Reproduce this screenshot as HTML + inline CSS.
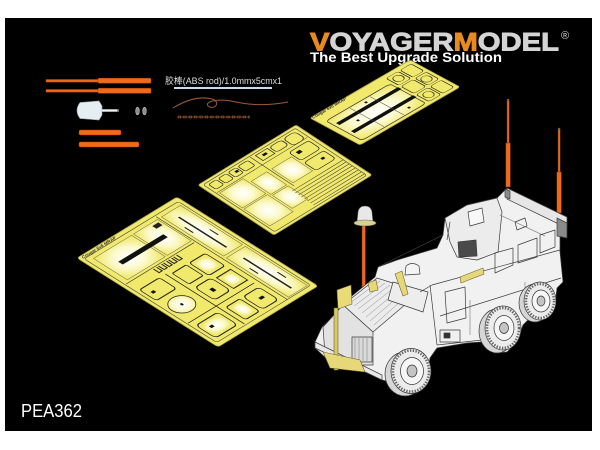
<!DOCTYPE html>
<html><head><meta charset="utf-8">
<style>html,body{margin:0;padding:0;background:#fff;width:600px;height:450px;overflow:hidden}svg{display:block}</style>
</head>
<body>
<svg width="600" height="450" viewBox="0 0 600 450" xmlns="http://www.w3.org/2000/svg">
<defs>
<radialGradient id="br" cx="50%" cy="50%" r="65%">
<stop offset="0" stop-color="#ffffff"/><stop offset="0.5" stop-color="#fcfad0"/><stop offset="1" stop-color="#f0e86c"/>
</radialGradient>
</defs>
<rect x="0" y="0" width="600" height="450" fill="#fff"/>
<rect x="5" y="18" width="587" height="413" fill="#000"/>

<!-- Logo -->
<text x="310" y="50.7" font-family="Liberation Sans, sans-serif" font-weight="bold" font-size="25" textLength="249" lengthAdjust="spacingAndGlyphs" stroke-width="0.9"><tspan fill="#e88a1f" stroke="#e88a1f">V</tspan><tspan fill="#d4d4d4" stroke="#d4d4d4">OYAGER</tspan><tspan fill="#e88a1f" stroke="#e88a1f">M</tspan><tspan fill="#d4d4d4" stroke="#d4d4d4">ODEL</tspan></text>
<text x="561" y="39" font-family="Liberation Sans, sans-serif" font-size="11" fill="#d6d6d6">®</text>
<text x="310" y="62" font-family="Liberation Sans, sans-serif" font-weight="bold" font-size="14" fill="#fff" textLength="192" lengthAdjust="spacingAndGlyphs">The Best Upgrade Solution</text>

<!-- rods -->
<g fill="#f06a18" stroke="#a8440c" stroke-width="0.5">
<rect x="46" y="79.5" width="53" height="2.6"/>
<rect x="98" y="78.2" width="53" height="5" rx="1"/>
<rect x="46" y="89.5" width="53" height="2.6"/>
<rect x="98" y="88.3" width="53" height="5" rx="1"/>
<rect x="79" y="130" width="42" height="5" rx="1.5"/>
<rect x="79" y="142" width="60" height="5" rx="1.5"/>
</g>
<path d="M80,102.5 L99,101 L102,106 L102,115 L99,120 L80,118.5 Q74,110.5 80,102.5 Z" fill="#e4eef3" stroke="#8fa4b0" stroke-width="0.6"/>
<rect x="102" y="109.3" width="16" height="2.4" fill="#eef3f6"/>
<rect x="117" y="109.3" width="2" height="2.4" fill="#888"/>
<ellipse cx="137.5" cy="111" rx="1.8" ry="3.8" fill="#8a8a8a" stroke="#cfcfcf" stroke-width="0.6"/>
<ellipse cx="144.5" cy="111" rx="1.8" ry="3.8" fill="#8a8a8a" stroke="#cfcfcf" stroke-width="0.6"/>

<text x="165" y="84" font-family="Liberation Sans, 'Noto Sans CJK SC', sans-serif" font-size="9" fill="#dcdcdc" textLength="117" lengthAdjust="spacingAndGlyphs">胶棒(ABS rod)/1.0mmx5cmx1</text>
<rect x="174" y="87" width="98" height="2" fill="#c9d9ee"/>
<path d="M173,108 C186,100 200,96 212,99 C222,102 214,111 208,106 C204,101 220,98 236,102 C254,106 272,105 288,102" fill="none" stroke="#9b5a38" stroke-width="1"/>
<line x1="177" y1="117" x2="250" y2="117" stroke="#9b5a38" stroke-width="0.8"/>
<line x1="178" y1="117" x2="250" y2="117" stroke="#9b5a38" stroke-width="2.4" stroke-dasharray="3,2.4" fill="none"/>
<line x1="178" y1="117" x2="250" y2="117" stroke="#000" stroke-width="0.9" stroke-dasharray="1.6,3.8" stroke-dashoffset="-0.7"/>

<!-- BIG FRET -->
<g transform="matrix(1.00,-0.61,1.41,0.89,77,258)">
<rect x="0" y="0" width="100" height="100" rx="2" fill="#f1e96c" stroke="#a9a04c" stroke-width="0.8" vector-effect="non-scaling-stroke"/>
<rect x="3" y="3" width="94" height="94" rx="2" fill="none" stroke="#444" stroke-width="0.6" vector-effect="non-scaling-stroke"/>
<rect x="8" y="6" width="38" height="24" fill="url(#br)" stroke="#555" stroke-width="0.5" vector-effect="non-scaling-stroke"/>
<rect x="48" y="6" width="24" height="24" fill="url(#br)" stroke="#555" stroke-width="0.5" vector-effect="non-scaling-stroke"/>
<rect x="18" y="16.5" width="45" height="3.2" fill="#111"/>
<rect x="64" y="8" width="6" height="3" fill="#222"/>
<rect x="76" y="6" width="19" height="44" fill="url(#br)" stroke="#555" stroke-width="0.5" vector-effect="non-scaling-stroke"/>
<rect x="76" y="52" width="19" height="44" fill="url(#br)" stroke="#555" stroke-width="0.5" vector-effect="non-scaling-stroke"/>
<g fill="#222">
<rect x="84" y="12" width="1.4" height="34"/><rect x="84" y="58" width="1.4" height="34"/>
<rect x="79" y="20" width="1" height="6"/><rect x="90" y="30" width="1" height="6"/>
<rect x="79" y="66" width="1" height="6"/><rect x="90" y="78" width="1" height="6"/>
</g>
<line x1="73.5" y1="4" x2="73.5" y2="97" stroke="#333" stroke-width="0.6" vector-effect="non-scaling-stroke"/>
<line x1="4" y1="32" x2="72" y2="32" stroke="#333" stroke-width="0.6" vector-effect="non-scaling-stroke"/>
<path d="M30,33 v4 h3 v-4 M35,33 v4 h3 v-4 M40,33 v4 h3 v-4 M45,33 v4 h3 v-4 M50,33 v4 h3 v-4" fill="none" stroke="#222" stroke-width="1" vector-effect="non-scaling-stroke"/>
<ellipse cx="16" cy="63" rx="10" ry="7" fill="url(#br)" stroke="#222" stroke-width="0.8" vector-effect="non-scaling-stroke"/>
<circle cx="16" cy="63" r="1" fill="#111"/>
<line x1="4" y1="76" x2="70" y2="76" stroke="#222" stroke-width="0.8" vector-effect="non-scaling-stroke"/>
<line x1="32" y1="40" x2="32" y2="96" stroke="#222" stroke-width="0.8" vector-effect="non-scaling-stroke"/>
<g fill="none" stroke="#222" stroke-width="0.7" vector-effect="non-scaling-stroke">
<rect x="36" y="42" width="14" height="12" rx="1"/>
<rect x="53" y="42" width="16" height="14" rx="2"/>
<rect x="36" y="58" width="16" height="14" rx="3"/>
<rect x="55" y="60" width="14" height="12"/>
<rect x="6" y="80" width="22" height="14" rx="3"/>
<rect x="36" y="80" width="14" height="14" rx="2"/>
<rect x="53" y="80" width="16" height="14" rx="3"/>
<rect x="6" y="40" width="20" height="12" rx="2"/>
</g>
<g fill="url(#br)">
<rect x="38" y="82" width="10" height="10"/>
<rect x="55" y="44" width="12" height="10"/>
<rect x="57" y="62" width="10" height="8"/>
<rect x="8" y="82" width="18" height="10"/>
</g>
<g fill="#111"><rect x="42" y="64" width="3" height="3"/><rect x="12" y="85" width="3" height="2"/><rect x="60" y="86" width="4" height="2"/><rect x="10" y="45" width="3" height="2"/></g>
</g>
<text transform="translate(83,259) rotate(-31.4)" font-family="Liberation Sans, sans-serif" font-size="4.5" font-weight="bold" fill="#333">Cougar 6x6 MRAP</text>

<!-- MIDDLE FRET -->
<g transform="matrix(0.98,-0.60,0.76,0.50,198,185)">
<rect x="0" y="0" width="100" height="100" rx="2" fill="#f1e96c" stroke="#a9a04c" stroke-width="0.8" vector-effect="non-scaling-stroke"/>
<rect x="3" y="3" width="94" height="94" rx="2" fill="none" stroke="#444" stroke-width="0.6" vector-effect="non-scaling-stroke"/>
<rect x="5" y="22" width="24" height="30" fill="url(#br)" stroke="#555" stroke-width="0.5" vector-effect="non-scaling-stroke"/>
<rect x="5" y="54" width="24" height="34" fill="url(#br)" stroke="#555" stroke-width="0.5" vector-effect="non-scaling-stroke"/>
<rect x="31" y="30" width="16" height="26" fill="url(#br)" stroke="#555" stroke-width="0.5" vector-effect="non-scaling-stroke"/>
<rect x="31" y="58" width="16" height="26" fill="url(#br)" stroke="#555" stroke-width="0.5" vector-effect="non-scaling-stroke"/>
<rect x="52" y="30" width="20" height="28" fill="url(#br)" stroke="#555" stroke-width="0.5" vector-effect="non-scaling-stroke"/>
<g stroke="#333" stroke-width="0.6" vector-effect="non-scaling-stroke">
<line x1="45" y1="66" x2="97" y2="66"/><line x1="45" y1="70" x2="97" y2="70"/><line x1="45" y1="74" x2="97" y2="74"/>
<line x1="45" y1="78" x2="97" y2="78"/><line x1="45" y1="82" x2="97" y2="82"/><line x1="45" y1="86" x2="97" y2="86"/>
<line x1="45" y1="90" x2="97" y2="90"/><line x1="45" y1="94" x2="97" y2="94"/>
<line x1="4" y1="20" x2="96" y2="20"/><line x1="50" y1="4" x2="50" y2="62"/>
</g>
<g fill="none" stroke="#222" stroke-width="0.7" vector-effect="non-scaling-stroke">
<rect x="6" y="6" width="8" height="10" rx="2"/><rect x="16" y="6" width="8" height="10" rx="2"/>
<rect x="26" y="6" width="8" height="10" rx="2"/><rect x="36" y="6" width="10" height="10" rx="2"/>
<rect x="54" y="6" width="12" height="10"/><rect x="68" y="6" width="12" height="10" rx="3"/>
<rect x="82" y="6" width="12" height="14" rx="4"/><rect x="74" y="24" width="20" height="16" rx="3"/>
<rect x="74" y="44" width="20" height="16" rx="3"/>
</g>
<g fill="#111"><rect x="78" y="28" width="4" height="4"/><rect x="58" y="9" width="4" height="3"/><rect x="30" y="9" width="3" height="3"/><rect x="86" y="50" width="3" height="3"/></g>
</g>

<!-- SMALL FRET -->
<g transform="matrix(1.00,-0.58,0.50,0.27,310,118)">
<rect x="0" y="0" width="100" height="100" rx="3" fill="#f1e96c" stroke="#a9a04c" stroke-width="0.8" vector-effect="non-scaling-stroke"/>
<rect x="5" y="22" width="64" height="72" rx="4" fill="url(#br)" stroke="#333" stroke-width="0.7" vector-effect="non-scaling-stroke"/>
<rect x="8" y="36" width="62" height="7" fill="#111"/>
<rect x="8" y="66" width="62" height="7" fill="#111"/>
<g stroke="#444" stroke-width="0.5" vector-effect="non-scaling-stroke"><line x1="28" y1="24" x2="28" y2="92"/><line x1="48" y1="24" x2="48" y2="92"/></g>
<g fill="none" stroke="#222" stroke-width="0.7" vector-effect="non-scaling-stroke">
<rect x="72" y="8" width="12" height="26" rx="3"/><rect x="86" y="8" width="11" height="26" rx="3"/>
<rect x="72" y="38" width="12" height="26" rx="3"/><rect x="86" y="38" width="11" height="26" rx="3"/>
<rect x="72" y="68" width="12" height="26" rx="3"/><rect x="86" y="68" width="11" height="26" rx="3"/>
<ellipse cx="78" cy="21" rx="4" ry="8"/><ellipse cx="91" cy="51" rx="4" ry="8"/><ellipse cx="78" cy="81" rx="4" ry="8"/>
</g>
<g fill="#111"><rect x="20" y="52" width="2" height="4"/><rect x="40" y="28" width="2" height="4"/><rect x="56" y="82" width="2" height="4"/></g>
</g>
<text transform="translate(313,119) rotate(-30)" font-family="Liberation Sans, sans-serif" font-size="4.5" font-weight="bold" fill="#333">Cougar 6x6 MRAP</text>

<!-- antennas -->
<g stroke="#6a300c" stroke-width="0.5">
<rect x="507" y="100" width="2.2" height="44" fill="#ee6a1a"/>
<rect x="505.8" y="143" width="4.6" height="44" fill="#ee6a1a"/>
<rect x="558" y="129" width="2.2" height="44" fill="#ee6a1a"/>
<rect x="556.8" y="172" width="4.6" height="41" fill="#ee6a1a"/>
</g>
<circle cx="508" cy="100" r="1.2" fill="#666"/>
<circle cx="559" cy="129" r="1.2" fill="#666"/>

<!-- lamp pole -->
<rect x="362" y="224" width="3.4" height="76" fill="#ee6a1a" stroke="#6a300c" stroke-width="0.5"/>
<path d="M357,222 L358,212 Q359,206 365,206 Q371,206 372,212 L373,222 Z" fill="#e8e8e8" stroke="#555" stroke-width="0.6"/>
<ellipse cx="365" cy="223" rx="11" ry="3" fill="#d9d28e" stroke="#666" stroke-width="0.6"/>

<!-- VEHICLE -->
<g stroke="#3a3a3a" stroke-width="0.7" stroke-linejoin="round">
<polygon fill="#f1f1f1" points="315,342 322,327 332,318 343,305 353,295 375,277 378,267 397,260 437,248 443,235 445,218 467,205 497,198 507,188 567,217 567,228 560,230 560,252 563,282 557,288 555,305 543,317 530,318 523,325 517,342 507,352 497,353 487,348 482,342 467,343 437,348 430,358 425,385 417,393 403,393 393,385 390,382 382,380 370,373 350,365 330,362 315,348"/>
<!-- roof rail -->
<polygon fill="#e6e6e6" points="507,188 567,217 567,228 507,199"/>
<polygon fill="#8a8a8a" points="557,218 567,223 567,238 557,236"/>
<polygon fill="#8a8a8a" points="505,189 510,191 510,199 505,197"/>
<!-- turret -->
<polygon fill="#ececec" points="445,218 467,205 497,198 502,212 498,252 477,260 457,257 450,242"/>
<polygon fill="#4a4a4a" points="458,242 476,240 477,256 459,257"/>
<polygon fill="#f8f8f8" points="468,212 482,208 484,222 470,226"/>
<line x1="447" y1="240" x2="450" y2="222" fill="none"/>
<line x1="500" y1="215" x2="545" y2="236" fill="none" stroke="#888"/>
<polygon fill="none" points="515,222 525,218 527,226 517,230"/>
<!-- roof light -->
<path d="M405,275 L406,266 Q412,261 419,266 L420,274 Z" fill="#f4f4f4"/>
<!-- hood -->
<polygon fill="#ebebeb" points="343,305 377,278 420,292 373,332"/>
<g stroke="#8a8a8a" stroke-width="0.5">
<line x1="350" y1="303" x2="380" y2="281"/><line x1="354" y1="306" x2="385" y2="283"/>
<line x1="358" y1="309" x2="390" y2="285"/><line x1="362" y1="313" x2="395" y2="287"/>
<line x1="366" y1="317" x2="400" y2="289"/><line x1="370" y1="321" x2="405" y2="291"/>
<line x1="374" y1="325" x2="410" y2="293"/>
</g>
<!-- front face -->
<polygon fill="#e2e2e2" points="323,327 343,305 373,332 373,365 350,365 325,355"/>
<rect x="352" y="337" width="20" height="25" fill="#dadada"/>
<g stroke="#777" stroke-width="0.5"><line x1="355" y1="338" x2="355" y2="361"/><line x1="359" y1="338" x2="359" y2="361"/><line x1="363" y1="338" x2="363" y2="361"/><line x1="367" y1="338" x2="367" y2="361"/></g>
<!-- windshield / cab -->
<polygon fill="#ededed" points="393,282 428,292 423,312 388,300"/>
<line x1="378" y1="267" x2="443" y2="235"/>
<line x1="420" y1="292" x2="432" y2="285"/>
<!-- hull side -->
<line x1="432" y1="285" x2="560" y2="250"/>
<line x1="440" y1="316" x2="561" y2="278"/>
<line x1="430" y1="285" x2="437" y2="345"/>
<line x1="437" y1="345" x2="482" y2="340"/>
<polygon fill="none" points="495,253 513,248 513,265 495,273"/>
<polygon fill="none" points="518,245 537,238 537,257 518,263"/>
<polygon fill="none" points="540,235 555,230 555,247 540,253"/>
<polygon fill="none" points="445,292 465,287 466,318 447,323"/>
<line x1="470" y1="300" x2="470" y2="335" stroke="#888"/>
<line x1="525" y1="282" x2="525" y2="310" stroke="#888"/>
<rect x="440" y="330" width="20" height="12" fill="#f0f0f0"/>
<rect x="444" y="333" width="6" height="5" fill="#333"/>
<!-- bumper -->
<polygon fill="#e8e8e8" points="315,342 382,375 382,380 315,348"/>
</g>
<!-- yellow bits -->
<g stroke="#6d6430" stroke-width="0.6">
<polygon fill="#e9dc78" points="337,290 351,285 352,304 338,309"/>
<rect x="334" y="308" width="4" height="62" fill="#d8c860"/>
<polygon fill="#e6d878" points="323,352 360,360 365,372 330,368"/>
<polygon fill="#e6d878" points="460,277 483,268 484,274 461,283"/>
<polygon fill="#e6d878" points="395,274 402,271 408,294 403,296"/>
<polygon fill="#e6d878" points="368,283 376,280 378,290 370,292"/>
</g>
<!-- wheels -->
<g stroke="#333" stroke-width="0.7">
<ellipse cx="535" cy="303" rx="16" ry="19" fill="#d6d6d6"/>
<ellipse cx="540" cy="301" rx="16" ry="19" fill="#ececec"/>
<ellipse cx="540" cy="301" rx="14" ry="17" fill="none" stroke="#666" stroke-width="2.5" stroke-dasharray="1.4,1.4"/>
<ellipse cx="541" cy="301" rx="9" ry="11" fill="#f6f6f6"/>
<ellipse cx="541" cy="301" rx="4" ry="5" fill="#c4c4c4"/>

<ellipse cx="497" cy="331" rx="18" ry="22" fill="#d6d6d6"/>
<ellipse cx="503" cy="328" rx="18" ry="22" fill="#ececec"/>
<ellipse cx="503" cy="328" rx="16" ry="20" fill="none" stroke="#666" stroke-width="2.5" stroke-dasharray="1.4,1.4"/>
<ellipse cx="504" cy="328" rx="10" ry="12.5" fill="#f6f6f6"/>
<ellipse cx="504" cy="328" rx="4.5" ry="5.5" fill="#c4c4c4"/>

<ellipse cx="405" cy="374" rx="20" ry="22" fill="#d6d6d6"/>
<ellipse cx="411" cy="371" rx="20" ry="22.5" fill="#ececec"/>
<ellipse cx="411" cy="371" rx="18" ry="20.5" fill="none" stroke="#666" stroke-width="2.5" stroke-dasharray="1.4,1.4"/>
<ellipse cx="412" cy="371" rx="11.5" ry="13.5" fill="#f6f6f6"/>
<ellipse cx="412" cy="371" rx="5" ry="6" fill="#c4c4c4"/>
</g>

<text x="21" y="417" font-family="Liberation Sans, sans-serif" font-size="18" fill="#fff" textLength="61" lengthAdjust="spacingAndGlyphs">PEA362</text>
</svg>
</body></html>
